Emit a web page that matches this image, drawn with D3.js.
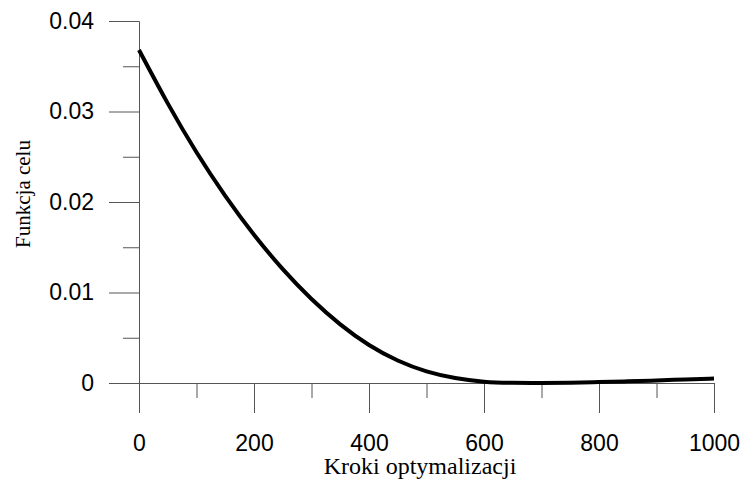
<!DOCTYPE html>
<html lang="pl">
<head>
  <meta charset="UTF-8">
  <title>Funkcja celu</title>
  <script src="https://d3js.org/d3.v7.min.js"></script>
  <style>
    body { margin: 0; background: #fff; }
  </style>
</head>
<body>
  <svg id="chart" width="744" height="485"></svg>
  <script>
    // values
    const steps = [0, 50, 100, 150, 200, 250, 300, 350, 400, 450, 500, 550, 600, 650, 700, 750, 800, 850, 900, 950, 1000]
    const costs = [0.0368, 0.0308, 0.0254, 0.0206, 0.0163, 0.0125, 0.0092, 0.0064, 0.0041, 0.0024, 0.0012, 0.0005, 0.0001, 0.0, 0.0, 0.00003, 0.0001, 0.00018, 0.00028, 0.00039, 0.0005]
    const xTicks = [0, 200, 400, 600, 800, 1000]
    const xMinor = [100, 300, 500, 700, 900]
    const yTicks = [0, 0.01, 0.02, 0.03, 0.04]
    const yMinor = [0.005, 0.015, 0.025, 0.035]

    const data = steps.map((s, i) => ({ step: s, cost: costs[i] }))

    const svg = d3.select("#chart")
    const x = d3.scaleLinear().domain([0, 1000]).range([139, 714])
    const y = d3.scaleLinear().domain([0, 0.04]).range([383, 21])

    const axisColor = "#555"
    const fmtY = d => d === 0 ? "0" : d3.format(".2f")(d)

    const styleAxis = g => {
      g.select(".domain").attr("stroke", axisColor)
      g.selectAll(".tick line").attr("stroke", axisColor)
      g.selectAll(".tick text")
        .attr("fill", "#000")
        .attr("font-family", "'Liberation Sans', Arial, sans-serif")
        .attr("font-size", 23)
    }

    // x axis
    svg.append("g")
      .attr("transform", "translate(0," + y(0) + ")")
      .call(d3.axisBottom(x).tickValues(xMinor).tickSize(15).tickSizeOuter(0).tickFormat(""))
      .call(styleAxis)
    svg.append("g")
      .attr("transform", "translate(0," + y(0) + ")")
      .call(d3.axisBottom(x).tickValues(xTicks).tickSize(30).tickSizeOuter(0).tickPadding(22).tickFormat(d3.format("d")))
      .call(styleAxis)

    // y axis
    svg.append("g")
      .attr("transform", "translate(" + x(0) + ",0)")
      .call(d3.axisLeft(y).tickValues(yMinor).tickSize(16).tickSizeOuter(0).tickFormat(""))
      .call(styleAxis)
    svg.append("g")
      .attr("transform", "translate(" + x(0) + ",0)")
      .call(d3.axisLeft(y).tickValues(yTicks).tickSize(30).tickSizeOuter(0).tickPadding(15).tickFormat(fmtY))
      .call(styleAxis)

    // curve
    svg.append("path")
      .datum(data)
      .attr("fill", "none")
      .attr("stroke", "#000")
      .attr("stroke-width", 4)
      .attr("d", d3.line().curve(d3.curveBasis).x(d => x(d.step)).y(d => y(d.cost)))

    // titles
    svg.append("text")
      .attr("x", 420)
      .attr("y", 474)
      .attr("text-anchor", "middle")
      .attr("font-family", "'Liberation Serif', 'Times New Roman', serif")
      .attr("font-size", 24)
      .text("Kroki optymalizacji")

    svg.append("text")
      .attr("transform", "translate(30,194) rotate(-90)")
      .attr("text-anchor", "middle")
      .attr("font-family", "'Liberation Serif', 'Times New Roman', serif")
      .attr("font-size", 21)
      .text("Funkcja celu")
  </script>
</body>
</html>
